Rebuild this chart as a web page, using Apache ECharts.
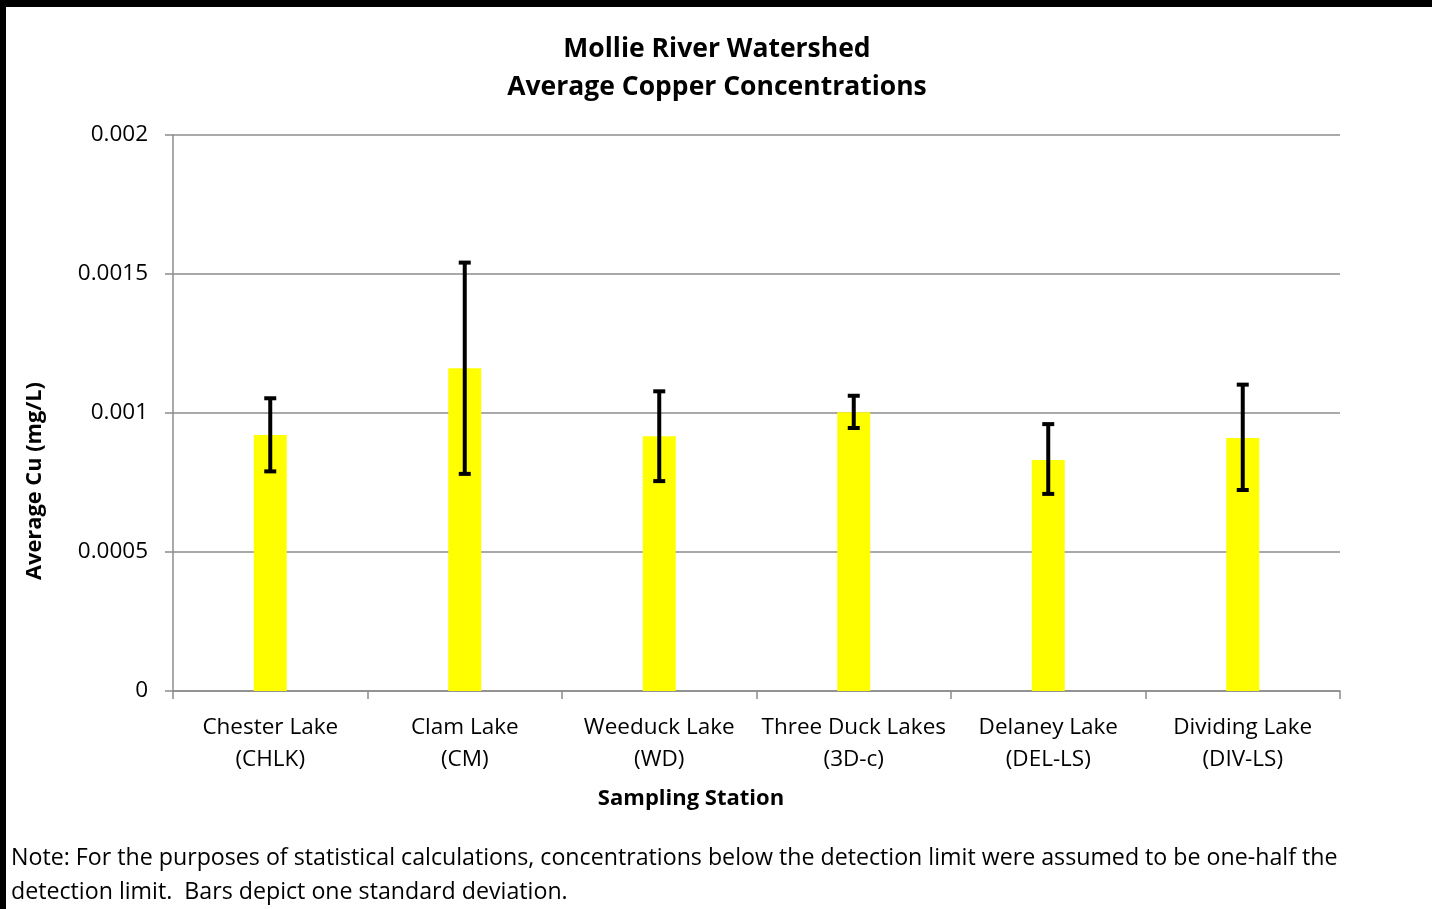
<!DOCTYPE html>
<html><head><meta charset="utf-8">
<script src="https://cdn.jsdelivr.net/npm/echarts@6/dist/echarts.min.js"></script>
<style>html,body{margin:0;padding:0;background:#fff}#c{width:1432px;height:909px}</style>
</head><body><div id="c"></div>
<script>
const categories = ['Chester Lake\n(CHLK)', 'Clam Lake\n(CM)', 'Weeduck Lake\n(WD)', 'Three Duck Lakes\n(3D-c)', 'Delaney Lake\n(DEL-LS)', 'Dividing Lake\n(DIV-LS)'];
const means = [0.000921, 0.001161, 0.000916, 0.001003, 0.000831, 0.000910];
const lower = [0.000790, 0.000781, 0.000755, 0.000946, 0.000709, 0.000723];
const upper = [0.001053, 0.001541, 0.001078, 0.001062, 0.000960, 0.001102];
const yTicks = [0, 0.0005, 0.001, 0.0015, 0.002];

const FONT = 'Open Sans';
const chart = echarts.init(document.getElementById('c'));
chart.setOption({
  animation: false,
  backgroundColor: '#fff',
  textStyle: {fontFamily: FONT},
  grid: {left: 173, right: 92, top: 135, bottom: 218},
  xAxis: {
    type: 'category', data: categories,
    axisLine: {lineStyle: {color: '#8c8c8c', width: 1.5}},
    axisTick: {show: true, interval: 0, length: 8, lineStyle: {color: '#8c8c8c', width: 1.5}},
    axisLabel: {interval: 0, color: '#000', fontSize: 22.5, fontFamily: FONT, lineHeight: 32, margin: 21}
  },
  yAxis: {
    type: 'value', min: 0, max: 0.002, interval: 0.0005,
    axisLine: {show: true, lineStyle: {color: '#8c8c8c', width: 1.5}},
    axisTick: {show: true, length: 8, lineStyle: {color: '#8c8c8c', width: 1.5}},
    splitLine: {lineStyle: {color: '#8c8c8c', width: 1.5}},
    axisLabel: {color: '#000', fontSize: 22.5, fontFamily: FONT, margin: 25,
      formatter: v => { const t = yTicks.find(x => Math.abs(x - v) < 1e-9); return String(t); }}
  },
  series: [
    {type: 'bar', data: means, barWidth: 33, itemStyle: {color: '#ffff00'}},
    {type: 'custom', data: categories.map((c, i) => [i, lower[i], upper[i]]), z: 5,
      renderItem: function (params, api) {
        const i = api.value(0);
        const lo = api.coord([i, api.value(1)]);
        const hi = api.coord([i, api.value(2)]);
        const hw = 6;
        const st = {stroke: '#000', lineWidth: 4};
        return {type: 'group', children: [
          {type: 'line', shape: {x1: lo[0], y1: lo[1], x2: hi[0], y2: hi[1]}, style: st},
          {type: 'line', shape: {x1: lo[0] - hw, y1: lo[1], x2: lo[0] + hw, y2: lo[1]}, style: st},
          {type: 'line', shape: {x1: hi[0] - hw, y1: hi[1], x2: hi[0] + hw, y2: hi[1]}, style: st}
        ]};
      }}
  ],
  graphic: [
    {type: 'rect', shape: {x: 0, y: 0, width: 1432, height: 7}, style: {fill: '#000'}},
    {type: 'rect', shape: {x: 0, y: 0, width: 6, height: 909}, style: {fill: '#000'}},
    {type: 'text', x: 717, y: 49, style: {text: 'Mollie River Watershed', font: 'bold 26.5px "Open Sans"', fill: '#000', textAlign: 'center', textVerticalAlign: 'middle'}},
    {type: 'text', x: 717, y: 87, style: {text: 'Average Copper Concentrations', font: 'bold 26.5px "Open Sans"', fill: '#000', textAlign: 'center', textVerticalAlign: 'middle'}},
    {type: 'text', x: 691, y: 799, style: {text: 'Sampling Station', font: 'bold 22px "Open Sans"', fill: '#000', textAlign: 'center', textVerticalAlign: 'middle'}},
    {type: 'text', x: 35, y: 481, rotation: Math.PI / 2, style: {text: 'Average Cu (mg/L)', font: 'bold 21.8px "Open Sans"', fill: '#000', textAlign: 'center', textVerticalAlign: 'middle'}},
    {type: 'text', x: 11, y: 858, style: {text: 'Note: For the purposes of statistical calculations, concentrations below the detection limit were assumed to be one-half the', font: '23.2px "Open Sans"', fill: '#000', textAlign: 'left', textVerticalAlign: 'middle'}},
    {type: 'text', x: 11, y: 892, style: {text: 'detection limit.  Bars depict one standard deviation.', font: '23.2px "Open Sans"', fill: '#000', textAlign: 'left', textVerticalAlign: 'middle'}}
  ]
});
</script></body></html>
